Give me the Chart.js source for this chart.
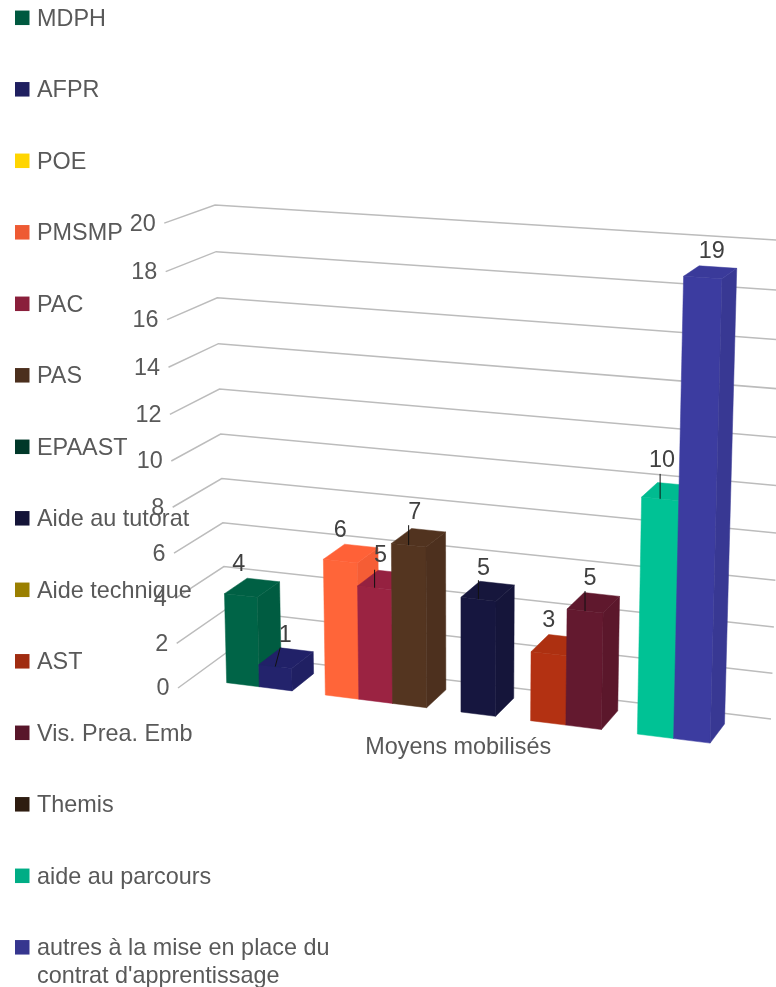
<!DOCTYPE html>
<html lang="fr">
<head>
    <meta charset="UTF-8">
    <title>Moyens mobilisés</title>
    <script src="https://cdn.jsdelivr.net/npm/chart.js@4"></script>
    <style>
        body { margin: 0; background: #fff; }
        #moyensChart { display: block; }
    </style>
</head>
<body>
    <canvas id="moyensChart" width="776" height="987"></canvas>

    <script>
        // Chart data
        const categories = ['Moyens mobilisés'];
        const seriesNames = ['MDPH', 'AFPR', 'POE', 'PMSMP', 'PAC', 'PAS', 'EPAAST', 'Aide au tutorat', 'Aide technique', 'AST', 'Vis. Prea. Emb', 'Themis', 'aide au parcours', "autres à la mise en place du contrat d'apprentissage"];
        const seriesValues = [4, 1, null, 6, 5, 7, null, 5, null, 3, 5, null, 10, 19];
        const seriesColors = ['#00593f', '#1f1f60', '#ffd500', '#ee5a33', '#8a1f3b', '#4b2f1d', '#003829', '#141438', '#9a7f00', '#a02c10', '#58162a', '#2e1c10', '#00ad85', '#36368f'];

        const FONT = '23.4px "Liberation Sans", Arial, sans-serif';
        const TEXT_COLOR = '#595959';
        const LABEL_COLOR = '#404040';
        const GRID_COLOR = '#bcbcbc';

        // Perspective box: back-left-bottom, back-right-bottom, back-left-top, front-left-bottom
        const box = {
            o: [226, 653], x: [771, 719], y: [215, 205], z: [178, 688],
            gx: -0.0667, gy: -0.044, gz: -0.038
        };
        // Bars sit between these two depths of the floor
        const BAR_REAR = 0.25;
        const BAR_FRONT = 0.73;

        // Where the value label goes relative to the bar's front top edge; [dx, dy, leaderDx, leaderDy]
        const labelPlacement = {
            0: [-2, -31], 1: [10, -31, 5, -19], 3: [0, -31], 4: [6, -32, 0, -18],
            5: [6, -33, 0, -20], 7: [5, -31, 0, -19], 9: [0, -33], 10: [5, -32, 0, -20],
            12: [2, -38, 0, -25], 13: [9, -26]
        };

        // u along the category axis, v up the value axis, d from back wall to front, all 0..1
        function project(u, v, d) {
            const w = 1 + box.gx * u + box.gy * v + box.gz * d;
            const axis = function(i) {
                return box.o[i]
                    + u * ((1 + box.gx) * box.x[i] - box.o[i])
                    + v * ((1 + box.gy) * box.y[i] - box.o[i])
                    + d * ((1 + box.gz) * box.z[i] - box.o[i]);
            };
            return { x: axis(0) / w, y: axis(1) / w };
        }

        function shade(hex, factor) {
            const n = parseInt(hex.slice(1), 16);
            const c = [n >> 16, (n >> 8) & 255, n & 255].map(function(p) {
                return Math.min(255, Math.round(p * factor));
            });
            return 'rgb(' + c.join(',') + ')';
        }

        function face(ctx, points, color) {
            ctx.beginPath();
            points.forEach(function(p, i) {
                if (i === 0) ctx.moveTo(p.x, p.y); else ctx.lineTo(p.x, p.y);
            });
            ctx.closePath();
            ctx.fillStyle = color;
            ctx.strokeStyle = color;
            ctx.lineWidth = 0.5;
            ctx.fill();
            ctx.stroke();
        }

        function drawGrid(ctx, yScale, toV) {
            yScale.ticks.forEach(function(tick) {
                const v = toV(yScale.getPixelForValue(tick.value));
                const front = project(0, v, 1);
                const corner = project(0, v, 0);
                const right = project(1, v, 0);
                ctx.beginPath();
                ctx.moveTo(front.x, front.y);
                ctx.lineTo(corner.x, corner.y);
                ctx.lineTo(right.x, right.y);
                ctx.strokeStyle = GRID_COLOR;
                ctx.lineWidth = 1.5;
                ctx.stroke();

                ctx.font = FONT;
                ctx.fillStyle = TEXT_COLOR;
                ctx.textAlign = 'right';
                ctx.textBaseline = 'middle';
                ctx.fillText(tick.label, front.x - 8.5, front.y + 1);
            });
        }

        function drawBars(chart, toU, toV) {
            const ctx = chart.ctx;
            chart.data.datasets.forEach(function(dataset, i) {
                const bar = chart.getDatasetMeta(i).data[0];
                if (dataset.data[0] === null) return;
                const u0 = toU(bar.x - bar.width / 2);
                const u1 = toU(bar.x + bar.width / 2);
                const top = toV(bar.y);
                const color = seriesColors[i];

                face(ctx, [project(u0, 0, BAR_FRONT), project(u1, 0, BAR_FRONT), project(u1, top, BAR_FRONT), project(u0, top, BAR_FRONT)], shade(color, 1.12));
                face(ctx, [project(u1, 0, BAR_FRONT), project(u1, 0, BAR_REAR), project(u1, top, BAR_REAR), project(u1, top, BAR_FRONT)], shade(color, 1.03));
                face(ctx, [project(u0, top, BAR_FRONT), project(u1, top, BAR_FRONT), project(u1, top, BAR_REAR), project(u0, top, BAR_REAR)], shade(color, 1.08));
            });
        }

        // Labels go after all the bars so neighbours don't cover them
        function drawValueLabels(chart, toU, toV) {
            const ctx = chart.ctx;
            chart.data.datasets.forEach(function(dataset, i) {
                const bar = chart.getDatasetMeta(i).data[0];
                if (dataset.data[0] === null) return;
                const anchor = project(toU(bar.x), toV(bar.y), BAR_FRONT);
                const place = labelPlacement[i];
                if (place.length > 2) {
                    ctx.beginPath();
                    ctx.moveTo(anchor.x, anchor.y);
                    ctx.lineTo(anchor.x + place[2], anchor.y + place[3]);
                    ctx.strokeStyle = '#111';
                    ctx.lineWidth = 1;
                    ctx.stroke();
                }
                ctx.font = FONT;
                ctx.fillStyle = LABEL_COLOR;
                ctx.textAlign = 'center';
                ctx.textBaseline = 'middle';
                ctx.fillText(String(dataset.data[0]), anchor.x + place[0], anchor.y + place[1]);
            });
        }

        function wrapText(ctx, text, maxWidth) {
            const lines = [];
            let line = '';
            text.split(' ').forEach(function(word) {
                const next = line ? line + ' ' + word : word;
                if (ctx.measureText(next).width > maxWidth && line) {
                    lines.push(line);
                    line = word;
                } else {
                    line = next;
                }
            });
            lines.push(line);
            return lines;
        }

        // Legend column runs behind the plot, so it can't use the built-in box layout
        function drawLegend(ctx) {
            ctx.font = FONT;
            ctx.textAlign = 'left';
            ctx.textBaseline = 'middle';
            seriesNames.forEach(function(name, i) {
                const rowY = 17.8 + 71.5 * i;
                ctx.fillStyle = seriesColors[i];
                ctx.fillRect(15, rowY - 7.25, 14.5, 14.5);
                ctx.fillStyle = TEXT_COLOR;
                wrapText(ctx, name, 300).forEach(function(line, n) {
                    ctx.fillText(line, 37, rowY + 1.7 + n * 27.5);
                });
            });
        }

        const perspectivePlugin = {
            id: 'perspective',
            beforeDatasetsDraw: function(chart) {
                const ctx = chart.ctx;
                const xScale = chart.scales.x;
                const yScale = chart.scales.y;
                const toU = function(px) { return (px - xScale.left) / (xScale.right - xScale.left); };
                const toV = function(py) { return (yScale.bottom - py) / (yScale.bottom - yScale.top); };

                drawGrid(ctx, yScale, toV);
                drawBars(chart, toU, toV);
                drawValueLabels(chart, toU, toV);
                drawLegend(ctx);

                // Axis title under the floor
                const floorMid = project(0.5, 0, 1);
                ctx.font = FONT;
                ctx.fillStyle = TEXT_COLOR;
                ctx.textAlign = 'center';
                ctx.textBaseline = 'middle';
                ctx.fillText(xScale.getLabelForValue(0), floorMid.x + 8, floorMid.y + 25);

                return false; // the flat bars are replaced by the boxes above
            }
        };

        new Chart(document.getElementById('moyensChart').getContext('2d'), {
            type: 'bar',
            data: {
                labels: categories,
                datasets: seriesNames.map(function(name, i) {
                    return {
                        label: name,
                        data: [seriesValues[i]],
                        backgroundColor: seriesColors[i],
                        categoryPercentage: 0.865,
                        barPercentage: 1
                    };
                })
            },
            options: {
                responsive: false,
                animation: false,
                layout: { padding: 0 },
                plugins: {
                    legend: { display: false },
                    tooltip: { enabled: false }
                },
                scales: {
                    x: { display: false },
                    y: { display: false, min: 0, max: 20, ticks: { stepSize: 2 } }
                }
            },
            plugins: [perspectivePlugin]
        });
    </script>
</body>
</html>
